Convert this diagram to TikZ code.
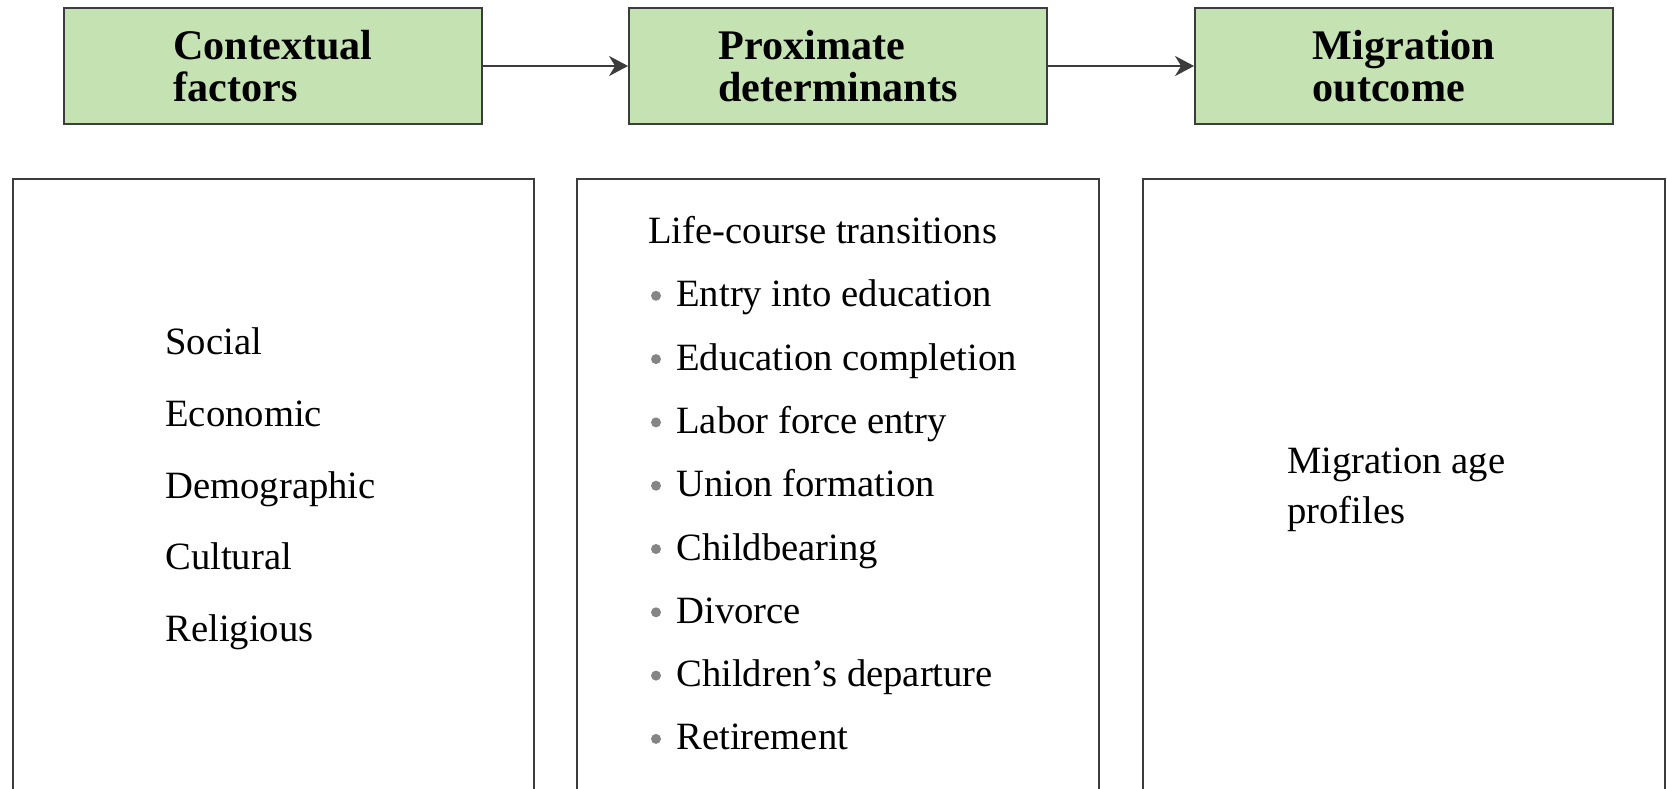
\documentclass[tikz,border=0pt]{standalone}
\usepackage{fontspec}
\setmainfont{Liberation Serif}
\usetikzlibrary{arrows.meta}
\definecolor{headgreen}{HTML}{C5E3B2}
\definecolor{framegray}{HTML}{3C3C3C}
\definecolor{dotgray}{HTML}{858585}
\begin{document}
\begin{tikzpicture}[x=0.02cm, y=-0.02cm,
    header/.style={draw=framegray, line width=1.1pt, fill=headgreen,
        minimum width=8.36cm, minimum height=2.31cm, align=left,
        font=\fontsize{24}{23.5}\selectfont\bfseries},
    panel/.style={draw=framegray, line width=1.1pt,
        minimum width=10.43cm, minimum height=12.62cm},
    item/.style={anchor=base west, inner sep=0pt, font=\fontsize{22}{28}\selectfont},
    link/.style={-{Stealth[length=0.38cm, width=0.4cm, inset=0.12cm]}, line width=1.3pt, framegray}]
    % Marco
    \useasboundingbox (0,0) rectangle (1667,788);
    \clip (0,0) rectangle (1667,788);

    % Cajas superiores
    \node[header] (ctx) at (273,66) {Contextual\\factors};
    \node[header] (prox) at (838,66) {Proximate\\determinants};
    \node[header] (outc) at (1404,66) {Migration\\outcome};

    % Flechas
    \draw[link] (ctx) -- (prox);
    \draw[link] (prox) -- (outc);

    % Paneles inferiores
    \node[panel] (ctxpanel) at (273.5,494.5) {};
    \node[panel] (proxpanel) at (838,494.5) {};
    \node[panel] (outcpanel) at (1404,494.5) {};

    % Factores contextuales
    \foreach \y/\txt in {354/Social, 426/Economic, 498/Demographic, 569/Cultural, 641/Religious} {
        \node[item] (ctx-\txt) at (165,\y) {\txt};
    }

    % Transiciones
    \node[item] (lct) at (648,243.5) {Life-course transitions};
    \foreach \y/\txt [count=\i] in {
        306.8/Entry into education,
        370.1/Education completion,
        433.4/Labor force entry,
        496.7/Union formation,
        560/Childbearing,
        623.3/Divorce,
        686.6/Children’s departure,
        749.9/Retirement
    } {
        \fill[dotgray] (656,{\y-11}) circle (0.1cm);
        \node[item] (trans\i) at (676,\y) {\txt};
    }

    % Resultado
    \node[item, align=left] (agep) at (1287,523) {Migration age\\profiles};
\end{tikzpicture}
\end{document}
